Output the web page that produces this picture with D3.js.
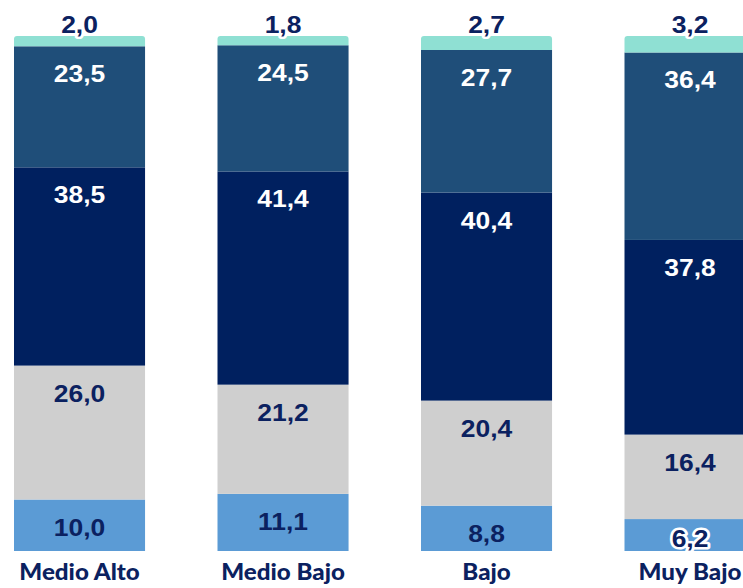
<!DOCTYPE html>
<html>
<head>
<meta charset="utf-8">
<script src="https://cdn.jsdelivr.net/npm/d3@7"></script>
<style>
  html, body { margin: 0; padding: 0; background: #fff; }
  svg { display: block; }
</style>
</head>
<body>
<svg id="chart" width="743" height="588"></svg>
<script>
const categories = ["Medio Alto", "Medio Bajo", "Bajo", "Muy Bajo"];
const seriesNames = ["s1", "s2", "s3", "s4", "s5"]; // bottom to top
const s1 = [10.0, 11.1, 8.8, 6.2];
const s2 = [26.0, 21.2, 20.4, 16.4];
const s3 = [38.5, 41.4, 40.4, 37.8];
const s4 = [23.5, 24.5, 27.7, 36.4];
const s5 = [2.0, 1.8, 2.7, 3.2];
const seriesValues = [s1, s2, s3, s4, s5];
const colors = ["#5B9BD5", "#CFCFCF", "#00205F", "#1F4E79", "#8FE0D3"];
const labelColors = ["#0B2160", "#0B2160", "#FFFFFF", "#FFFFFF", "#0B2160"];

const rows = categories.map((c, i) => {
  const r = { cat: c };
  seriesNames.forEach((s, k) => r[s] = seriesValues[k][i]);
  return r;
});
const stacked = d3.stack().keys(seriesNames)(rows);

const svg = d3.select("#chart");
const step = 203.5, pi = 0.356;
const x0 = 14 - step * pi / 2;
const x = d3.scaleBand().domain(categories)
  .range([x0, x0 + step * categories.length])
  .paddingInner(pi).paddingOuter(pi / 2);
const y = d3.scaleLinear().domain([0, 100]).range([551, 36]);

const fmt = v => d3.format(".1f")(v).replace(".", ",");
const sx = 1.15;

stacked.forEach((layer, k) => {
  const g = svg.append("g");
  layer.forEach((d, i) => {
    const cat = categories[i];
    const xl = x(cat), w = x.bandwidth();
    const yt = y(d[1]), yb = y(d[0]);
    if (k === seriesNames.length - 1) {
      const r = 3;
      g.append("path")
        .attr("d", `M${xl},${yb} L${xl},${yt + r} Q${xl},${yt} ${xl + r},${yt} L${xl + w - r},${yt} Q${xl + w},${yt} ${xl + w},${yt + r} L${xl + w},${yb} Z`)
        .attr("fill", colors[k]);
    } else {
      g.append("rect").attr("x", xl).attr("y", yt)
        .attr("width", w).attr("height", yb - yt).attr("fill", colors[k]);
    }
  });
});

// labels
stacked.forEach((layer, k) => {
  layer.forEach((d, i) => {
    const cat = categories[i];
    const cx = x(cat) + x.bandwidth() / 2;
    const yt = y(d[1]), yb = y(d[0]);
    const v = seriesValues[k][i];
    let by, halo = false;
    if (k === seriesNames.length - 1) {
      by = yt - 3; halo = true;
    } else {
      by = Math.min(yt + 36, yb - 4);
      if (yb - yt < 36) halo = true;
    }
    const t = svg.append("text")
      .attr("transform", `translate(${cx},${by}) scale(${sx},1)`)
      .attr("text-anchor", "middle")
      .attr("font-family", "'Liberation Sans', Arial, sans-serif")
      .attr("font-weight", "bold")
      .attr("font-size", 23)
      .attr("fill", labelColors[k])
      .text(fmt(v));
    if (halo) {
      t.attr("stroke", "#fff").attr("stroke-width", 5)
       .attr("stroke-linejoin", "round").attr("paint-order", "stroke");
    }
  });
});

// category labels
categories.forEach(c => {
  svg.append("text")
    .attr("transform", `translate(${x(c) + x.bandwidth() / 2},580) scale(1.05,1)`)
    .attr("text-anchor", "middle")
    .attr("font-family", "Lato, 'Open Sans', sans-serif")
    .attr("font-weight", "900")
    .attr("font-size", 23)
    .attr("fill", "#0B2160")
    .text(c);
});
</script>
</body>
</html>
